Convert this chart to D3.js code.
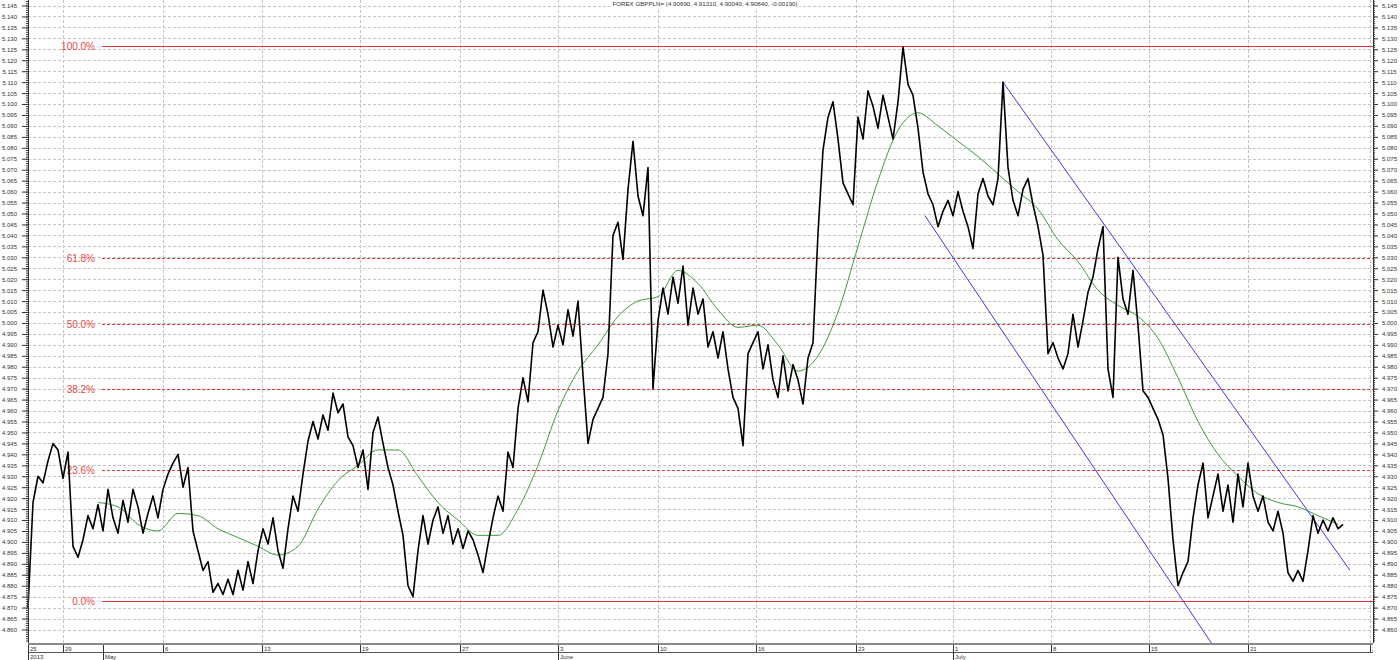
<!DOCTYPE html>
<html>
<head>
<meta charset="utf-8">
<script src="https://cdn.jsdelivr.net/npm/d3@7/dist/d3.min.js"></script>
<style>
	html, body { margin: 0; padding: 0; background: #fff; }
	svg { display: block; font-family: "Liberation Sans", Arial, sans-serif; }
</style>
</head>
<body>
<svg id="chart" width="1400" height="660"></svg>
<script>
	'use strict';

	// GBPPLN close, one value per 6 trading hours, starting 25 April 2013
	var price = [
		4.870, 4.918, 4.930, 4.927, 4.937, 4.945, 4.942, 4.929, 4.941, 4.898,
		4.893, 4.901, 4.912, 4.906, 4.917, 4.905, 4.924, 4.911, 4.904, 4.919,
		4.909, 4.924, 4.916, 4.904, 4.913, 4.921, 4.911, 4.924, 4.931, 4.936,
		4.940, 4.925, 4.934, 4.905, 4.896, 4.887, 4.891, 4.877, 4.881, 4.876,
		4.883, 4.876, 4.887, 4.878, 4.891, 4.881, 4.896, 4.906, 4.899, 4.911,
		4.896, 4.888, 4.906, 4.921, 4.914, 4.931, 4.946, 4.955, 4.947, 4.958,
		4.951, 4.968, 4.959, 4.963, 4.948, 4.944, 4.934, 4.942, 4.924, 4.950,
		4.957, 4.945, 4.934, 4.926, 4.914, 4.903, 4.880, 4.875, 4.896, 4.912,
		4.899, 4.910, 4.916, 4.904, 4.912, 4.899, 4.906, 4.897, 4.905, 4.901,
		4.894, 4.886, 4.899, 4.911, 4.921, 4.914, 4.941, 4.934, 4.961, 4.975,
		4.964, 4.991, 4.996, 5.015, 5.004, 4.989, 4.999, 4.990, 5.006, 4.994,
		5.010, 4.976, 4.945, 4.956, 4.961, 4.966, 4.986, 5.040, 5.046, 5.029,
		5.061, 5.083, 5.058, 5.049, 5.071, 4.970, 5.001, 5.016, 5.004, 5.021,
		5.009, 5.026, 4.999, 5.016, 5.004, 5.011, 4.989, 4.996, 4.984, 4.996,
		4.979, 4.966, 4.961, 4.944, 4.986, 4.991, 4.996, 4.979, 4.990, 4.974,
		4.966, 4.985, 4.969, 4.981, 4.974, 4.963, 4.984, 4.991, 5.041, 5.079,
		5.094, 5.101, 5.084, 5.064, 5.059, 5.054, 5.094, 5.084, 5.106, 5.099,
		5.089, 5.104, 5.094, 5.084, 5.101, 5.126, 5.109, 5.104, 5.089, 5.069,
		5.059, 5.054, 5.044, 5.051, 5.056, 5.049, 5.060, 5.051, 5.044, 5.034,
		5.059, 5.066, 5.058, 5.054, 5.066, 5.110, 5.071, 5.056, 5.049, 5.061,
		5.066, 5.054, 5.044, 5.031, 4.986, 4.991, 4.984, 4.979, 4.986, 5.004,
		4.989, 5.001, 5.014, 5.021, 5.034, 5.044, 4.979, 4.966, 5.030, 5.011,
		5.004, 5.024, 4.999, 4.969, 4.966, 4.961, 4.956, 4.949, 4.929, 4.901,
		4.880, 4.886, 4.891, 4.911, 4.926, 4.936, 4.911, 4.921, 4.931, 4.914,
		4.926, 4.909, 4.931, 4.916, 4.936, 4.921, 4.914, 4.921, 4.909, 4.905,
		4.914, 4.904, 4.886, 4.882, 4.887, 4.882, 4.896, 4.912, 4.904, 4.910,
		4.905, 4.911, 4.906, 4.908
	];

	// moving average, one value every 4 samples from sample 14
	var maStart = 14;
	var maStep = 4;
	var ma = [
		4.918, 4.916, 4.908, 4.905, 4.913, 4.912, 4.906, 4.902, 4.898, 4.894,
		4.898, 4.915, 4.928, 4.935, 4.942, 4.942, 4.930, 4.918, 4.910, 4.903,
		4.903, 4.915, 4.935, 4.960, 4.978, 4.990, 5.003, 5.010, 5.012, 5.024,
		5.018, 5.006, 4.998, 4.999, 4.990, 4.978, 4.985, 5.005, 5.035, 5.065,
		5.088, 5.096, 5.090, 5.083, 5.076, 5.068, 5.060, 5.052, 5.038, 5.028,
		5.015, 5.008, 5.003, 4.993, 4.975, 4.955, 4.940, 4.930, 4.922, 4.918,
		4.916, 4.912, 4.908
	];

	// Fibonacci retracement between the low and the high
	var fibLow = 4.8728;
	var fibHigh = 5.1266;
	var fibLevels = [0, 0.236, 0.382, 0.5, 0.618, 1];
	var fibLabels = ['0.0%', '23.6%', '38.2%', '50.0%', '61.8%', '100.0%'];
	var fibFrom = 14.8;

	// falling channel, [sample, price]
	var channelUpper = [[195, 5.110], [264.4, 4.887]];
	var channelLower = [[179.4, 5.049], [237.8, 4.850]];

	var weekIdx = [0, 7, 27, 46.8, 66.4, 86.4, 106, 126, 145.6, 165.6, 185, 204.6, 224.2, 244, 268.4];
	var weekLabels = ['25', '29', '6', '13', '19', '27', '3', '10', '16', '23', '1', '8', '15', '21', '29'];
	var monthIdx = [0, 15, 106, 185];
	var monthLabels = ['2013', 'May', 'June', 'July'];

	var title = 'FOREX GBPPLN= (4.90690, 4.91310, 4.90040, 4.90840, -0.00190)';

	var svg = d3.select('#chart');
	var left = 28, right = 1373, bottom = 643;

	var x = d3.scaleLinear().domain([0, 269]).range([left, right]);
	var y = d3.scaleLinear().domain([4.860, 5.145]).range([629.5, 5.5]);

	var majors = d3.range(0, 58).map(function(i) { return +(4.860 + i * 0.005).toFixed(3); });
	var minors = d3.range(0, 293).map(function(i) { return +(4.855 + i * 0.001).toFixed(3); });

	svg.append('defs').append('clipPath').attr('id', 'band')
		.append('rect').attr('x', left).attr('y', bottom).attr('width', right - left).attr('height', 20);

	// grid
	var grid = svg.append('g').attr('stroke', '#c4c4c4').attr('stroke-dasharray', '3,2');
	grid.selectAll('line.h').data(majors).enter().append('line')
		.attr('x1', left).attr('x2', right)
		.attr('y1', function(d) { return Math.round(y(d)) + 0.5; })
		.attr('y2', function(d) { return Math.round(y(d)) + 0.5; });
	grid.selectAll('line.v').data(weekIdx.slice(1)).enter().append('line')
		.attr('x1', function(d) { return Math.round(x(d)) + 0.5; })
		.attr('x2', function(d) { return Math.round(x(d)) + 0.5; })
		.attr('y1', 0).attr('y2', bottom);

	// title
	var titleText = svg.append('text')
		.attr('x', 705).attr('y', 6)
		.attr('text-anchor', 'middle')
		.attr('font-size', 6.2).attr('fill', '#333')
		.text(title);
	var tb = titleText.node().getBBox();
	svg.insert('rect', 'text').attr('x', tb.x - 2).attr('y', 0).attr('width', tb.width + 4).attr('height', 8).attr('fill', '#fff');

	// fibonacci levels
	var fib = svg.append('g');
	fibLevels.forEach(function(lv, i) {
		var v = fibLow + lv * (fibHigh - fibLow);
		var yy = Math.round(y(v)) + 0.5;
		var solid = lv === 0 || lv === 1;
		fib.append('line')
			.attr('x1', x(fibFrom)).attr('x2', right)
			.attr('y1', yy).attr('y2', yy)
			.attr('stroke', '#e03a3a').attr('stroke-width', 1)
			.attr('stroke-dasharray', solid ? null : '3,2');
		fib.append('text')
			.attr('x', x(fibFrom) - 7).attr('y', yy + 3.5)
			.attr('text-anchor', 'end')
			.attr('font-size', 10).attr('fill', '#e24848')
			.text(fibLabels[i]);
	});

	// moving average
	svg.append('path').datum(ma)
		.attr('fill', 'none').attr('stroke', '#3c9c3c').attr('stroke-width', 1)
		.attr('d', d3.line()
			.x(function(d, i) { return x(maStart + i * maStep); })
			.y(function(d) { return y(d); })
			.curve(d3.curveMonotoneX));

	// channel
	var chan = d3.line().x(function(d) { return x(d[0]); }).y(function(d) { return y(d[1]); });
	[channelUpper, channelLower].forEach(function(c) {
		svg.append('path').datum(c)
			.attr('fill', 'none').attr('stroke', '#3b3bdf').attr('stroke-width', 1)
			.attr('d', chan);
	});

	// price
	svg.append('path').datum(price)
		.attr('fill', 'none').attr('stroke', '#000').attr('stroke-width', 1.6)
		.attr('stroke-linejoin', 'round')
		.attr('d', d3.line()
			.x(function(d, i) { return x(i); })
			.y(function(d) { return y(d); }));

	// y axes
	function styleAxis(g) {
		g.select('.domain').remove();
		g.selectAll('line').attr('stroke', '#333');
		g.selectAll('text').attr('font-size', 6).attr('fill', '#333')
			.attr('font-family', '"Liberation Sans", Arial, sans-serif');
	}
	var fmt = d3.format('.3f');
	svg.append('g').attr('transform', 'translate(' + left + ',0)')
		.call(d3.axisLeft(y).tickValues(minors).tickSize(2).tickFormat(''))
		.call(styleAxis);
	svg.append('g').attr('transform', 'translate(' + left + ',0)')
		.call(d3.axisLeft(y).tickValues(majors).tickSize(6).tickPadding(5).tickFormat(fmt))
		.call(styleAxis);
	svg.append('g').attr('transform', 'translate(' + right + ',0)')
		.call(d3.axisRight(y).tickValues(minors).tickSize(2).tickFormat(''))
		.call(styleAxis);
	svg.append('g').attr('transform', 'translate(' + right + ',0)')
		.call(d3.axisRight(y).tickValues(majors).tickSize(5).tickPadding(4).tickFormat(fmt))
		.call(styleAxis);
	svg.append('line').attr('x1', left + 0.5).attr('x2', left + 0.5).attr('y1', 0).attr('y2', bottom).attr('stroke', '#333');
	svg.append('line').attr('x1', right + 0.5).attr('x2', right + 0.5).attr('y1', 0).attr('y2', bottom).attr('stroke', '#333');

	// date band
	var band = svg.append('g').attr('clip-path', 'url(#band)');
	band.append('rect').attr('x', left).attr('y', bottom).attr('width', right - left).attr('height', 9)
		.attr('fill', '#fff');
	band.append('line').attr('x1', left).attr('x2', right).attr('y1', bottom + 1).attr('y2', bottom + 1)
		.attr('stroke', '#8a8a8a').attr('stroke-width', 2);
	band.append('line').attr('x1', left).attr('x2', right).attr('y1', bottom + 9.5).attr('y2', bottom + 9.5)
		.attr('stroke', '#555').attr('stroke-width', 1);
	band.selectAll('line.wk').data(weekIdx).enter().append('line')
		.attr('x1', function(d) { return Math.round(x(d)) + 0.5; })
		.attr('x2', function(d) { return Math.round(x(d)) + 0.5; })
		.attr('y1', bottom + 2).attr('y2', bottom + 9)
		.attr('stroke', '#333');
	band.selectAll('text.wk').data(weekIdx).enter().append('text')
		.attr('x', function(d) { return Math.round(x(d)) + 2; })
		.attr('y', bottom + 7.5)
		.attr('font-size', 6).attr('fill', '#333')
		.text(function(d, i) { return weekLabels[i]; });
	svg.selectAll('line.mo').data(monthIdx).enter().append('line')
		.attr('x1', function(d) { return Math.round(x(d)) + 0.5; })
		.attr('x2', function(d) { return Math.round(x(d)) + 0.5; })
		.attr('y1', bottom + 2).attr('y2', 660)
		.attr('stroke', '#333');
	svg.selectAll('text.mo').data(monthIdx).enter().append('text')
		.attr('x', function(d) { return Math.round(x(d)) + 2; })
		.attr('y', 658.5)
		.attr('font-size', 6).attr('fill', '#333')
		.text(function(d, i) { return monthLabels[i]; });
</script>
</body>
</html>
